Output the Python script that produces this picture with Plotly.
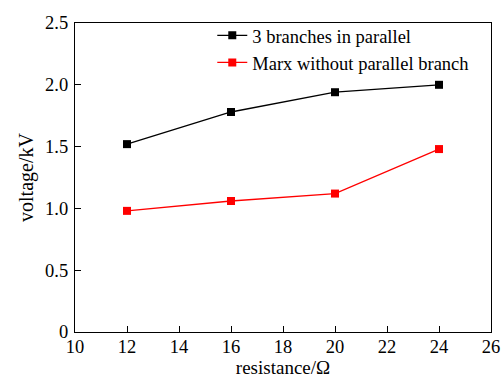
import plotly.graph_objects as go

resistance = [12, 16, 20, 24]
parallel_3 = [1.52, 1.78, 1.94, 2.00]
marx_plain = [0.98, 1.06, 1.12, 1.48]

y_ticks = [0, 0.5, 1.0, 1.5, 2.0, 2.5]
y_tick_text = ["0", "0.5", "1.0", "1.5", "2.0", "2.5"]
x_ticks = [10, 12, 14, 16, 18, 20, 22, 24, 26]

font_family = "Times New Roman, Liberation Serif, serif"

fig = go.Figure()
fig.add_trace(go.Scatter(
    x=resistance, y=parallel_3, mode="lines+markers",
    name="3 branches in parallel",
    line=dict(color="black", width=1.3),
    marker=dict(symbol="square", size=8, color="black"),
))
fig.add_trace(go.Scatter(
    x=resistance, y=marx_plain, mode="lines+markers",
    name="Marx without parallel branch",
    line=dict(color="#ff0000", width=1.3),
    marker=dict(symbol="square", size=8, color="#ff0000"),
))

axis_common = dict(
    showline=True, linecolor="black", linewidth=1.3, mirror=True,
    ticks="inside", ticklen=6, tickwidth=1.3, tickcolor="black",
    showgrid=False, zeroline=False, automargin=False,
    tickfont=dict(family=font_family, size=18.5, color="black"),
)

fig.update_layout(
    width=503, height=378,
    margin=dict(l=75, r=12, t=23, b=46),
    paper_bgcolor="white", plot_bgcolor="white",
    font=dict(family=font_family, color="black"),
    xaxis=dict(range=[10, 26], tickvals=x_ticks, ticklabelstandoff=-2,
               title=dict(text="resistance/Ω", font=dict(family=font_family, size=19),
                          standoff=8),
               **axis_common),
    yaxis=dict(range=[0, 2.5], tickvals=y_ticks, ticktext=y_tick_text,
               ticklabelstandoff=2,
               title=dict(text="voltage/kV", font=dict(family=font_family, size=20),
                          standoff=6),
               **axis_common),
    legend=dict(x=0.33, y=1.02, xanchor="left", yanchor="top",
                bgcolor="rgba(0,0,0,0)", borderwidth=0,
                font=dict(family=font_family, size=18.5, color="black"),
                tracegroupgap=0, itemwidth=30),
    showlegend=True,
)

fig.write_html("out.html")
